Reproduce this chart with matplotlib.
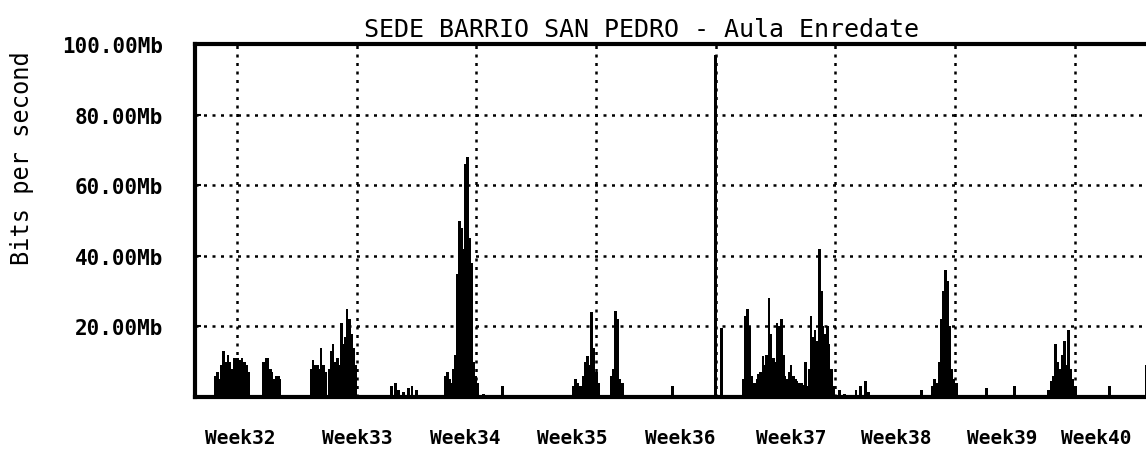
#!/usr/bin/env python3
# -*- coding: utf-8 -*-
"""
Трафик: SEDE BARRIO SAN PEDRO - Aula Enredate (недели 32-40).
Картинка сохраняется в out.png
"""

import matplotlib
matplotlib.use("Agg")
import matplotlib.pyplot as plt

# --- данные: день от начала оси и скорость в Mb/s ---
spike_day = [
    # Week32
    1.23, 1.35, 1.46, 1.58, 1.70, 1.82, 1.94, 2.05, 2.17, 2.29, 2.41, 2.52,
    2.64, 2.76, 2.88, 3.00, 3.12,
    4.04, 4.16, 4.28, 4.40, 4.51, 4.63, 4.75, 4.87, 4.98,
    # Week33
    6.80, 6.91, 7.03, 7.15, 7.27, 7.38, 7.50, 7.62,
    7.85, 7.97, 8.08, 8.20, 8.32, 8.43, 8.55, 8.67, 8.79, 8.90, 9.02, 9.14,
    9.26, 9.37,
    11.50, 11.72, 11.90, 12.20, 12.50, 12.70, 12.95,
    # Week34
    14.65, 14.76, 14.88, 15.00, 15.11, 15.23, 15.35, 15.47, 15.58, 15.70,
    15.82, 15.93, 16.05, 16.17, 16.29, 16.40, 16.52, 16.87, 17.98,
    # Week35
    22.14, 22.26, 22.38, 22.55, 22.73, 22.85, 22.96, 23.08, 23.20, 23.32,
    23.49, 23.61, 24.37, 24.49, 24.61, 24.72, 24.84, 25.01, 27.94,
    # Week36/37
    30.46, 30.81,
    32.10, 32.22, 32.34, 32.46, 32.57, 32.75, 32.87, 32.98, 33.10, 33.22,
    33.34, 33.45, 33.57, 33.69, 33.81, 33.92, 34.04, 34.16, 34.28, 34.40,
    34.51, 34.63, 34.75, 34.86, 34.98, 35.10, 35.21, 35.33, 35.45, 35.57,
    35.68, 35.80, 35.91, 36.03, 36.15, 36.26, 36.38, 36.50, 36.62, 36.73,
    36.85, 36.97, 37.08, 37.20, 37.32,
    37.67, 38.00, 38.66, 38.90, 39.19, 39.40, 42.47,
    # Week39
    43.10, 43.23, 43.35, 43.53, 43.64, 43.76, 43.88, 44.00, 44.11, 44.23,
    44.35, 44.52, 46.28, 47.92,
    # Week40
    49.90, 50.09, 50.21, 50.33, 50.44, 50.56, 50.73, 50.85, 50.97, 51.09,
    51.20, 51.32, 51.49, 53.49, 55.65,
]

spike_mb = [
    6, 7, 5, 9, 13, 10, 12, 10, 8, 11, 11, 11,
    10.5, 11, 10, 9, 7,
    10, 11, 11, 8, 7, 5, 6, 6, 5,
    8, 10.5, 9, 9, 8, 14, 9, 7,
    8, 13, 15, 10, 11, 9, 21, 15, 17, 25, 22, 18,
    14, 9,
    3, 4, 2, 1.5, 2.5, 3, 2,
    6, 7, 5, 4, 8, 12, 35, 50, 48, 42,
    66, 68, 45, 38, 10, 6, 4, 1, 3,
    3, 5, 4, 3, 6, 10, 11.5, 9, 24, 14,
    7, 4, 6, 8, 24.5, 22, 5, 4, 3,
    97, 19.5,
    5, 23, 25, 20, 6, 4, 5, 6.5, 7, 11.5,
    9, 12, 28, 18, 11, 10, 21, 20, 22, 12,
    6, 5, 7, 9, 6, 5, 4.5, 4, 4, 3.5,
    10, 3, 8, 23, 17, 19, 16, 42, 30, 20,
    18, 20, 15, 8, 3,
    2, 1, 2, 3, 4.5, 1.5, 2,
    3, 5, 4, 10, 22, 30, 36, 33, 20, 8,
    5, 4, 2.5, 3,
    2, 4.5, 6, 15, 10, 8, 12, 16, 9, 19,
    8, 5, 3, 3, 9,
]

y_ticks = [20, 40, 60, 80, 100]
y_labels = ["20.00Mb", "40.00Mb", "60.00Mb", "80.00Mb", "100.00Mb"]

week_labels = ["Week32", "Week33", "Week34", "Week35", "Week36",
               "Week37", "Week38", "Week39", "Week40"]
label_day = [2.64, 9.49, 15.82, 22.09, 28.41, 34.86, 41.0, 47.2, 52.7]
grid_day = [2.46, 9.46, 16.46, 23.46, 30.46, 37.46, 44.46, 51.46]


def main():
    plt.rcParams["font.family"] = ["DejaVu Sans Mono"]

    fig = plt.figure(figsize=(11.46, 4.56), dpi=100)
    ax = fig.add_axes([0.170, 0.127, 0.835, 0.774])

    # сетка: пунктир
    dots = (0, (1.2, 2.2))
    for g in grid_day:
        ax.axvline(g, color="black", lw=1.8, ls=dots, zorder=1)
    for t in y_ticks[:-1]:
        ax.axhline(t, color="black", lw=1.8, ls=dots, zorder=1)

    ax.bar(spike_day, spike_mb, width=0.17, color="black",
           linewidth=0, zorder=2)

    ax.set_xlim(0, 55.95)
    ax.set_ylim(0, 100)

    ax.set_yticks(y_ticks)
    ax.set_yticklabels(y_labels, fontsize=15, fontweight="bold")
    ax.tick_params(axis="y", length=4, width=1.5, direction="in", pad=23)

    ax.set_xticks(label_day)
    ax.set_xticklabels(week_labels, fontsize=14, fontweight="bold")
    ax.tick_params(axis="x", length=0, pad=22)

    for side in ("top", "left", "bottom"):
        ax.spines[side].set_linewidth(3)
    ax.spines["right"].set_visible(False)

    ax.set_ylabel("Bits per second", fontsize=17)
    ax.yaxis.set_label_coords(-0.168, 0.68)

    fig.text(0.56, 0.935, "SEDE BARRIO SAN PEDRO - Aula Enredate",
             ha="center", va="center", fontsize=18)

    fig.savefig("out.png", dpi=100)
    plt.close(fig)


if __name__ == "__main__":
    main()
